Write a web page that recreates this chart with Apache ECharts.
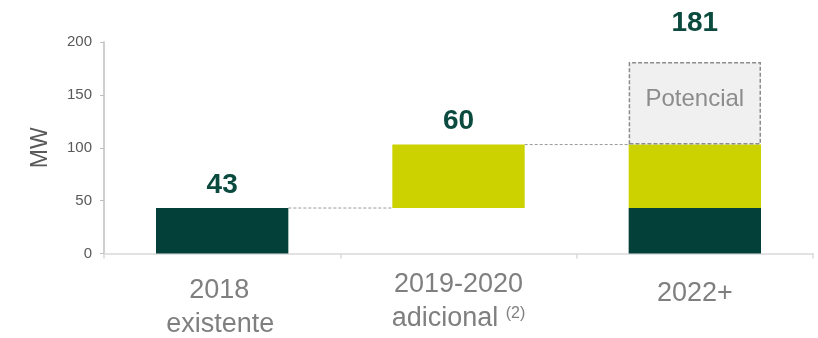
<!DOCTYPE html>
<html>
<head>
<meta charset="utf-8">
<script src="https://cdn.jsdelivr.net/npm/echarts@6/dist/echarts.min.js"></script>
<style>
html,body{margin:0;padding:0;background:#fff;}
#c{width:818px;height:338px;}
</style>
</head>
<body>
<div id="c"></div>
<script>
// ---- data ----
const categories = ['2018 existente', '2019-2020 adicional', '2022+'];
const baseValues = [0, 43, 0];            // invisible offset
const existenteValues = [43, '-', 43];
const adicionalValues = ['-', 60, 60];
const potencialValues = ['-', '-', 78];
const totalLabels = ['43', '60', '181'];
const connectorLevels = [43, 103];        // dashed connectors between bars
const yTicks = [0, 50, 100, 150, 200];

const DARK = '#03403a', LIME = '#ccd200', GRAYFILL = '#f0f0f0';
const LABELCOL = '#0b4a3e';
const FONT = 'Liberation Sans, Arial, sans-serif';

const num = v => (v === '-' ? 0 : v);
const barTops = categories.map((c, i) =>
  num(baseValues[i]) + num(existenteValues[i]) + num(adicionalValues[i]) + num(potencialValues[i]));
const labelGaps = [9, 9, 25];

const chart = echarts.init(document.getElementById('c'), null, {renderer: 'canvas'});

const potData = potencialValues.map((v, i) => i === 2 ? {value: v, label: {show: true, position: 'insideTop', distance: 25,
  formatter: 'Potencial', color: '#8c8c8c', fontSize: 24, fontFamily: FONT}} : v);

const G = '#7f7f7f';
const option = {
  animation: false,
  backgroundColor: '#ffffff',
  textStyle: {fontFamily: FONT},
  grid: {left: 104, right: 5, top: 42, bottom: 84},
  xAxis: {
    type: 'category',
    data: categories,
    axisLine: {show: true, lineStyle: {color: '#d9d9d9', width: 1.5}},
    axisTick: {show: true, length: 5, lineStyle: {color: '#d9d9d9', width: 1.5}},
    axisLabel: {
      margin: 17,
      interval: 0,
      color: G,
      fontSize: 28,
      formatter: function (v, i) {
        if (i === 0) return '{a|2018}\n{b|existente}';
        if (i === 1) return '{c|2019-2020}\n{d|adicional }{s|(2)}';
        return '{e|2022+}';
      },
      rich: {
        a: {fontSize: 27, lineHeight: 40, color: G, padding: [0, 6, 0, 0]},
        b: {fontSize: 27, lineHeight: 28, color: G, padding: [0, 4, 0, 0]},
        c: {fontSize: 27, lineHeight: 29, color: G},
        d: {fontSize: 27, lineHeight: 38, color: G},
        s: {fontSize: 16, lineHeight: 38, color: G, padding: [0, 0, 10, 0]},
        e: {fontSize: 27, lineHeight: 46, color: G}
      }
    }
  },
  yAxis: {
    type: 'value',
    min: 0, max: 200, interval: 50,
    name: 'MW',
    nameLocation: 'middle',
    nameGap: 52,
    nameRotate: 90,
    nameTextStyle: {color: '#595959', fontSize: 23},
    axisLine: {show: true, lineStyle: {color: '#bfbfbf', width: 1.5}},
    axisTick: {show: true, length: 4, lineStyle: {color: '#bfbfbf'}},
    splitLine: {show: false},
    axisLabel: {color: '#595959', fontSize: 15, margin: 12,
      formatter: v => yTicks.includes(v) ? String(v) : ''}
  },
  series: [
    {type: 'bar', stack: 'w', barWidth: '56%', data: baseValues,
      itemStyle: {color: 'transparent'}, silent: true},
    {type: 'bar', stack: 'w', data: existenteValues, itemStyle: {color: DARK}},
    {type: 'bar', stack: 'w', data: adicionalValues, itemStyle: {color: LIME}},
    {type: 'bar', stack: 'w', data: potData,
      itemStyle: {color: GRAYFILL, borderColor: '#8c8c8c', borderWidth: 1.5, borderType: [4, 2]}},
    {type: 'custom', coordinateSystem: 'cartesian2d',
      data: connectorLevels.map((lv, i) => [i, lv]),
      encode: {x: 0, y: 1},
      renderItem: function (params, api) {
        const i = api.value(0), lv = api.value(1);
        const band = api.size([1, 0])[0];
        const half = band * 0.56 / 2;
        const p1 = api.coord([i, lv]);
        const p2 = api.coord([i + 1, lv]);
        return {type: 'line', shape: {x1: p1[0] + half, y1: p1[1], x2: p2[0] - half, y2: p2[1]},
          style: {stroke: '#999999', lineWidth: 1, lineDash: [3, 2]}};
      },
      z: 1},
    {type: 'custom', coordinateSystem: 'cartesian2d',
      data: barTops.map((t, i) => [i, t]),
      encode: {x: 0, y: 1},
      renderItem: function (params, api) {
        const i = api.value(0), t = api.value(1);
        const p = api.coord([i, t]);
        return {type: 'text', x: p[0], y: p[1] - labelGaps[i],
          style: {text: totalLabels[i], fill: LABELCOL, fontSize: 28, fontWeight: 'bold',
            fontFamily: FONT, align: 'center', verticalAlign: 'bottom'}};
      },
      z: 5}
  ]
};
chart.setOption(option);
</script>
</body>
</html>
